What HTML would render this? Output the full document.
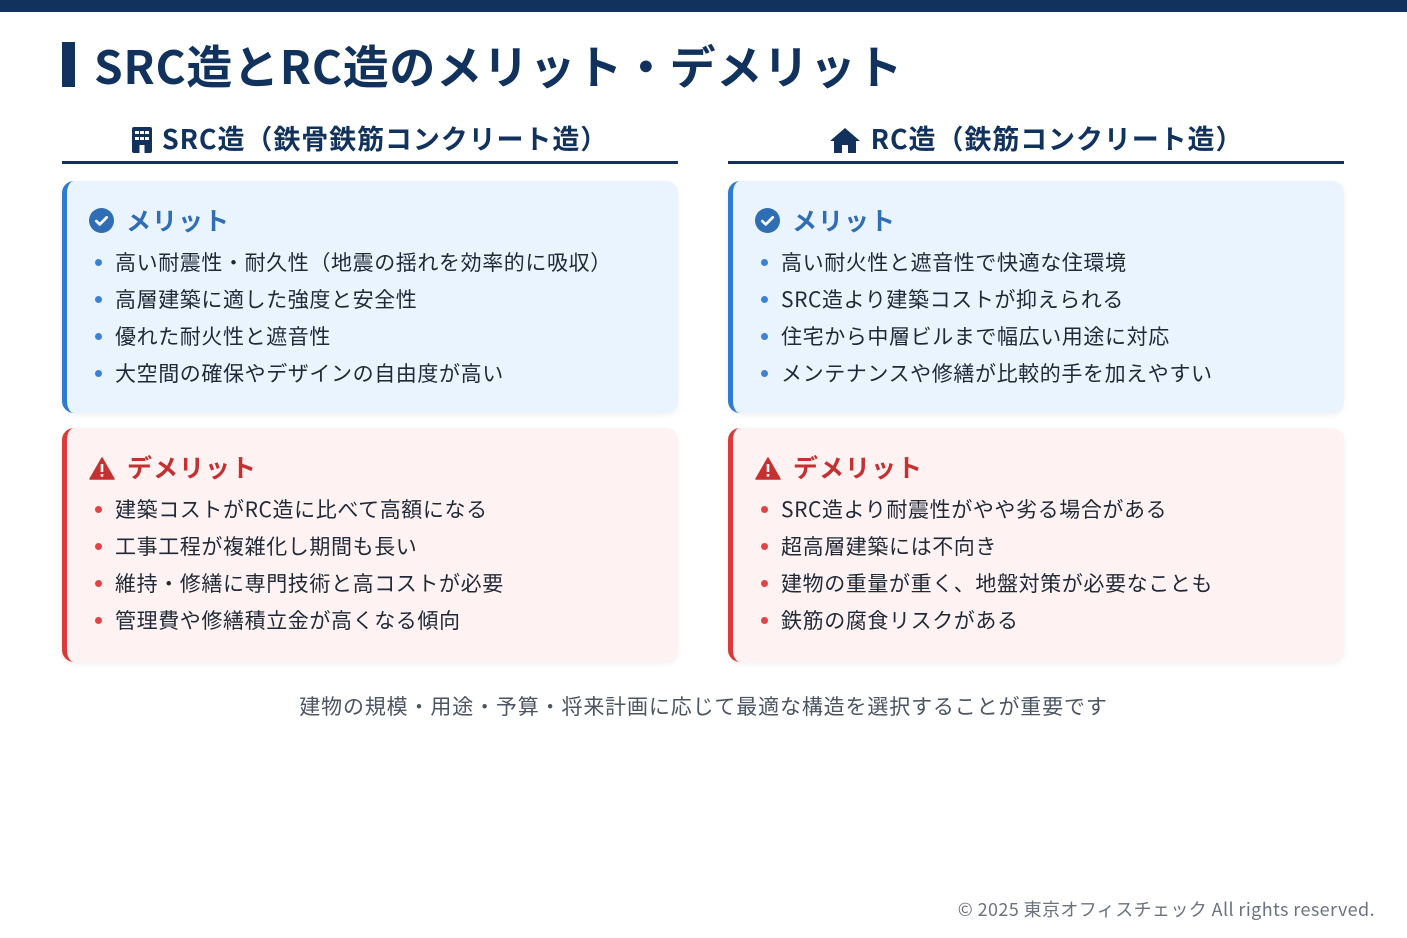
<!DOCTYPE html>
<html><head><meta charset="utf-8"><style>
*{margin:0;padding:0;box-sizing:border-box}
body{width:1407px;height:938px;background:#fff;position:relative;overflow:hidden;font-family:"Noto Sans CJK JP","Liberation Sans",sans-serif;color:#1f2937}
.top{position:absolute;left:0;top:0;width:1407px;height:12px;background:#12325e}
.tbar{position:absolute;left:62px;top:42px;width:13px;height:45px;background:#12325e}
h1{position:absolute;left:94px;top:35px;font-size:46px;font-weight:700;color:#12325e;line-height:60px;white-space:nowrap;letter-spacing:0.7px}
.col{position:absolute;top:0;width:616px}
.hd{position:absolute;top:118px;left:0;width:616px;height:46px;border-bottom:3px solid #12325e;text-align:center;font-size:27px;font-weight:700;color:#12325e;line-height:40px;white-space:nowrap;letter-spacing:0.9px}
.card{position:absolute;left:0;width:616px;border-radius:12px;box-shadow:0 2px 6px rgba(0,0,0,0.06)}
.m{top:181px;height:232px;background:#eaf4fe;border-left:5px solid #2e7bd0}
.d{top:428px;height:234px;background:#fef3f2;border-left:5px solid #dc3a3a}
.ct{position:absolute;left:22px;top:21px;font-size:25px;font-weight:700;line-height:36px;white-space:nowrap;letter-spacing:1px}
.m .ct{color:#2f6db5}.d .ct{color:#c53030}
.ct svg{vertical-align:-3px;margin-right:12px}
ul{position:absolute;left:26px;top:63px;list-style:none}
li{font-size:21px;line-height:37px;white-space:nowrap;position:relative;padding-left:22px;color:#1f2937;letter-spacing:0.6px}
li:before{content:"";position:absolute;left:2px;top:15px;width:7px;height:7px;border-radius:50%}
.m li:before{background:#3b82d6}.d li:before{background:#e04444}
.note{position:absolute;left:0;width:1407px;top:692px;text-align:center;font-size:21px;color:#4b5563;line-height:28px;letter-spacing:0.85px}
.copy{position:absolute;right:32px;top:897px;font-size:18px;color:#6b7280;line-height:24px;letter-spacing:0.4px}
</style></head><body>
<div class="top"></div>
<div class="tbar"></div>
<h1>SRC造とRC造のメリット・デメリット</h1>

<div class="col" style="left:62px">
 <div class="hd"><svg width="20" height="26" viewBox="0 0 20 26" style="vertical-align:-4px;margin-right:10px"><rect x="0" y="0" width="20" height="26" rx="2" fill="#12325e"/><g fill="#fff"><rect x="3" y="4" width="4" height="3"/><rect x="8" y="4" width="4" height="3"/><rect x="13" y="4" width="4" height="3"/><rect x="3" y="10" width="4" height="3"/><rect x="8" y="10" width="4" height="3"/><rect x="13" y="10" width="4" height="3"/><rect x="7.5" y="18" width="5" height="8"/></g></svg>SRC造（鉄骨鉄筋コンクリート造）</div>
 <div class="card m"><div class="ct"><svg width="25" height="25" viewBox="0 0 24 24"><circle cx="12" cy="12" r="12" fill="#2f6db5"/><path d="M7 12.5l3.3 3.3L17 9" stroke="#fff" stroke-width="2.6" fill="none" stroke-linecap="round" stroke-linejoin="round"/></svg>メリット</div>
 <ul><li>高い耐震性・耐久性（地震の揺れを効率的に吸収）</li><li>高層建築に適した強度と安全性</li><li>優れた耐火性と遮音性</li><li>大空間の確保やデザインの自由度が高い</li></ul></div>
 <div class="card d"><div class="ct"><svg width="26" height="23" viewBox="0 0 26 23"><path d="M13 1L25 22H1z" fill="#c53030" stroke="#c53030" stroke-width="1.5" stroke-linejoin="round"/><rect x="11.7" y="7" width="2.6" height="8" fill="#fff"/><rect x="11.7" y="17" width="2.6" height="2.6" fill="#fff"/></svg>デメリット</div>
 <ul><li>建築コストがRC造に比べて高額になる</li><li>工事工程が複雑化し期間も長い</li><li>維持・修繕に専門技術と高コストが必要</li><li>管理費や修繕積立金が高くなる傾向</li></ul></div>
</div>

<div class="col" style="left:728px">
 <div class="hd"><svg width="32" height="26" viewBox="0 0 32 26" style="vertical-align:-4px;margin-right:10px"><path d="M16 1L1 14h4v12h8v-8h6v8h8V14h4z" fill="#12325e"/></svg>RC造（鉄筋コンクリート造）</div>
 <div class="card m"><div class="ct"><svg width="25" height="25" viewBox="0 0 24 24"><circle cx="12" cy="12" r="12" fill="#2f6db5"/><path d="M7 12.5l3.3 3.3L17 9" stroke="#fff" stroke-width="2.6" fill="none" stroke-linecap="round" stroke-linejoin="round"/></svg>メリット</div>
 <ul><li>高い耐火性と遮音性で快適な住環境</li><li>SRC造より建築コストが抑えられる</li><li>住宅から中層ビルまで幅広い用途に対応</li><li>メンテナンスや修繕が比較的手を加えやすい</li></ul></div>
 <div class="card d"><div class="ct"><svg width="26" height="23" viewBox="0 0 26 23"><path d="M13 1L25 22H1z" fill="#c53030" stroke="#c53030" stroke-width="1.5" stroke-linejoin="round"/><rect x="11.7" y="7" width="2.6" height="8" fill="#fff"/><rect x="11.7" y="17" width="2.6" height="2.6" fill="#fff"/></svg>デメリット</div>
 <ul><li>SRC造より耐震性がやや劣る場合がある</li><li>超高層建築には不向き</li><li>建物の重量が重く、地盤対策が必要なことも</li><li>鉄筋の腐食リスクがある</li></ul></div>
</div>

<div class="note">建物の規模・用途・予算・将来計画に応じて最適な構造を選択することが重要です</div>
<div class="copy">© 2025 東京オフィスチェック All rights reserved.</div>
</body></html>
